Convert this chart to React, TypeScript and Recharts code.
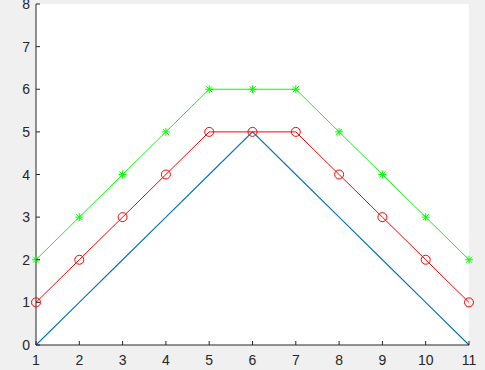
import React from "react";
import { LineChart, Line, XAxis, YAxis } from "recharts";

const xValues = [1, 2, 3, 4, 5, 6, 7, 8, 9, 10, 11];
const blueValues = [0, 1, 2, 3, 4, 5, 4, 3, 2, 1, 0];
const redValues = [1, 2, 3, 4, 5, 5, 5, 4, 3, 2, 1];
const greenValues = [2, 3, 4, 5, 6, 6, 6, 5, 4, 3, 2];
const xTicks = [1, 2, 3, 4, 5, 6, 7, 8, 9, 10, 11];
const yTicks = [0, 1, 2, 3, 4, 5, 6, 7, 8];

const data = xValues.map((x, i) => ({
  x,
  blue: blueValues[i],
  red: redValues[i],
  green: greenValues[i],
}));

const AXIS = "#262626";
const FONT = "'Liberation Sans', Arial, sans-serif";
const TL = 4;

const BottomTick = (p: any) => (
  <g>
    <line x1={p.x} y1={p.y} x2={p.x} y2={p.y - TL} stroke={AXIS} strokeWidth={1} />
    <text x={p.x} y={p.y + 20} textAnchor="middle" style={{ fontSize: "14px", fontFamily: FONT }} fill={AXIS}>
      {p.payload.value}
    </text>
  </g>
);
const TopTick = (p: any) => (
  <line x1={p.x} y1={p.y} x2={p.x} y2={p.y + TL} stroke={AXIS} strokeWidth={1} />
);
const LeftTick = (p: any) => (
  <g>
    <line x1={p.x} y1={p.y} x2={p.x + TL} y2={p.y} stroke={AXIS} strokeWidth={1} />
    <text x={p.x - 6} y={p.y + 5} textAnchor="end" style={{ fontSize: "14px", fontFamily: FONT }} fill={AXIS}>
      {p.payload.value}
    </text>
  </g>
);
const RightTick = (p: any) => (
  <line x1={p.x} y1={p.y} x2={p.x - TL} y2={p.y} stroke={AXIS} strokeWidth={1} />
);

const Star = (p: any) => {
  const { cx, cy } = p;
  if (cx == null || cy == null) return <g />;
  const s = 4;
  const d = 3;
  return (
    <g stroke="#00ff00" strokeWidth={1} fill="none">
      <line x1={cx - s} y1={cy} x2={cx + s} y2={cy} />
      <line x1={cx} y1={cy - s} x2={cx} y2={cy + s} />
      <line x1={cx - d} y1={cy - d} x2={cx + d} y2={cy + d} />
      <line x1={cx - d} y1={cy + d} x2={cx + d} y2={cy - d} />
    </g>
  );
};

export default function App() {
  return (
    <div style={{ position: "fixed", left: 0, top: 0, width: 485, height: 370, background: "#f0f0f0" }}>
      <div style={{ position: "absolute", left: 36, top: 4, width: 433, height: 341, background: "#ffffff" }} />
      <div style={{ position: "absolute", left: 0, top: 0 }}>
        <LineChart width={485} height={370} data={data} margin={{ top: 4, right: 16, left: 0, bottom: 0 }}>
          <XAxis
            xAxisId="b"
            dataKey="x"
            type="number"
            domain={[1, 11]}
            ticks={xTicks}
            orientation="bottom"
            height={25}
            tickSize={0}
            tickMargin={0}
            tickLine={false}
            axisLine={{ stroke: AXIS, strokeWidth: 1 }}
            tick={BottomTick}
            interval={0}
          />
          <XAxis
            xAxisId="t"
            dataKey="x"
            type="number"
            domain={[1, 11]}
            ticks={xTicks}
            orientation="top"
            height={0}
            tickSize={0}
            tickMargin={0}
            tickLine={false}
            axisLine={{ stroke: AXIS, strokeWidth: 1 }}
            tick={TopTick}
            interval={0}
          />
          <YAxis
            yAxisId="l"
            type="number"
            domain={[0, 8]}
            ticks={yTicks}
            orientation="left"
            width={36}
            tickSize={0}
            tickMargin={0}
            tickLine={false}
            axisLine={{ stroke: AXIS, strokeWidth: 1 }}
            tick={LeftTick}
            interval={0}
          />
          <YAxis
            yAxisId="r"
            type="number"
            domain={[0, 8]}
            ticks={yTicks}
            orientation="right"
            width={0}
            tickSize={0}
            tickMargin={0}
            tickLine={false}
            axisLine={{ stroke: AXIS, strokeWidth: 1 }}
            tick={RightTick}
            interval={0}
          />
          <Line
            xAxisId="b"
            yAxisId="l"
            dataKey="blue"
            stroke="#0072bd"
            strokeWidth={1.1}
            dot={false}
            activeDot={false}
            isAnimationActive={false}
          />
          <Line
            xAxisId="b"
            yAxisId="l"
            dataKey="red"
            stroke="#ff0000"
            strokeWidth={1}
            dot={{ r: 4.5, stroke: "#ff0000", strokeWidth: 1, fill: "none" }}
            activeDot={false}
            isAnimationActive={false}
          />
          <Line
            xAxisId="b"
            yAxisId="l"
            dataKey="green"
            stroke="#00ff00"
            strokeWidth={1}
            dot={<Star />}
            activeDot={false}
            isAnimationActive={false}
          />
        </LineChart>
      </div>
    </div>
  );
}
